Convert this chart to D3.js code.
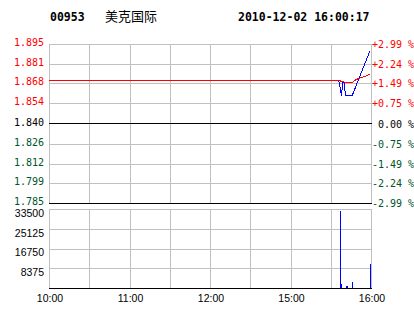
<!DOCTYPE html>
<html>
<head>
<meta charset="utf-8">
<script src="https://cdn.jsdelivr.net/npm/d3@7"></script>
<style>
  body { margin: 0; background: #fff; }
  svg { display: block; }
</style>
</head>
<body>
<div id="chart"></div>
<script>
// stock header
var code = "00953";
var stockName = "美克国际";
var stamp = "2010-12-02 16:00:17";

// axis labels
var timeTicks = [0, 60, 120, 180, 240];          // trading minutes
var timeLabels = ["10:00", "11:00", "12:00", "15:00", "16:00"];
var priceTicks = [1.895, 1.881, 1.868, 1.854, 1.840, 1.826, 1.812, 1.799, 1.785];
var pctLabels = ["+2.99 %", "+2.24 %", "+1.49 %", "+0.75 %", " 0.00 %", "-0.75 %", "-1.49 %", "-2.24 %", "-2.99 %"];
var volTicks = [33500, 25125, 16750, 8375];
var prevClose = 1.840;

// price line (minute, price)
var priceMin = [0, 216, 217, 218, 219, 220, 221, 226, 239];
var price    = [1.870, 1.870, 1.865, 1.860, 1.869, 1.869, 1.860, 1.860, 1.890];

// average line
var avgMin = [0, 216, 221, 226, 229, 239];
var avg    = [1.870, 1.870, 1.869, 1.8685, 1.8705, 1.874];

// volume bars
var volMin = [217, 218, 221, 222, 226, 239];
var vol    = [32800, 1700, 850, 850, 2500, 10200];

var W = 414, H = 314;
var left = 49, right = 371;
var pTop = 44, pBottom = 203;
var vTop = 209, vBottom = 288;

var grey = "#c0c0c0", red = "#ff0000", green = "#00552a";
var mono = "'DejaVu Sans Mono', monospace";
var sans = "'Liberation Sans', Arial, sans-serif";

var svg = d3.select("#chart").append("svg")
  .attr("width", W).attr("height", H);

var x = d3.scaleLinear().domain([0, 240]).range([left, right]);
var y = d3.scaleLinear()
  .domain([priceTicks[priceTicks.length - 1], priceTicks[0]])
  .range([pBottom, pTop]);
var yv = d3.scaleLinear().domain([0, volTicks[0]]).range([vBottom, vTop]);

function crisp(v) { return Math.round(v) + 0.5; }

// header
svg.append("text").attr("x", 50).attr("y", 17)
  .attr("dominant-baseline", "middle")
  .style("font", "bold 11.5px " + mono).text(code);
svg.append("text").attr("x", 105).attr("y", 17)
  .attr("dominant-baseline", "middle")
  .style("font", "13px 'Noto Sans CJK SC'").text(stockName);
svg.append("text").attr("x", 238).attr("y", 17)
  .attr("dominant-baseline", "middle")
  .style("font", "bold 11.5px " + mono).text(stamp);

// vertical grid, both panels
var vgrid = d3.range(0, 241, 30);
[[pTop, pBottom], [vTop, vBottom]].forEach(function(p) {
  svg.append("g").selectAll("line")
    .data(vgrid)
    .enter().append("line")
      .attr("x1", function(d) { return crisp(x(d)); })
      .attr("x2", function(d) { return crisp(x(d)); })
      .attr("y1", p[0]).attr("y2", p[1])
      .attr("stroke", grey);
});

// price grid
svg.append("g").selectAll("line")
  .data(priceTicks)
  .enter().append("line")
    .attr("x1", left).attr("x2", right + 1)
    .attr("y1", function(d) { return crisp(y(d)); })
    .attr("y2", function(d) { return crisp(y(d)); })
    .attr("stroke", function(d, i) {
      return (d === prevClose || i === priceTicks.length - 1) ? "#000" : grey;
    });

// volume grid
svg.append("g").selectAll("line")
  .data(volTicks)
  .enter().append("line")
    .attr("x1", left).attr("x2", right + 1)
    .attr("y1", function(d) { return crisp(yv(d)); })
    .attr("y2", function(d) { return crisp(yv(d)); })
    .attr("stroke", grey);
svg.append("line")
  .attr("x1", left).attr("x2", right + 1)
  .attr("y1", crisp(vBottom)).attr("y2", crisp(vBottom))
  .attr("stroke", "#000");

// left price labels
function tone(i) {
  var c = Math.floor(priceTicks.length / 2);
  return i < c ? red : (i === c ? "#000" : green);
}
svg.append("g").selectAll("text")
  .data(priceTicks)
  .enter().append("text")
    .attr("x", 44)
    .attr("y", function(d) { return y(d) - 1; })
    .attr("text-anchor", "end")
    .attr("dominant-baseline", "middle")
    .attr("fill", function(d, i) { return tone(i); })
    .style("font", "10px " + mono)
    .text(function(d) { return d.toFixed(3); });

// right percent labels
svg.append("g").selectAll("text")
  .data(pctLabels)
  .enter().append("text")
    .attr("x", 372)
    .attr("y", function(d, i) { return y(priceTicks[i]) + 1; })
    .attr("dominant-baseline", "middle")
    .attr("fill", function(d, i) { return tone(i); })
    .style("font", "10px " + mono)
    .style("white-space", "pre")
    .text(function(d) { return d; });

// volume labels
svg.append("g").selectAll("text")
  .data(volTicks)
  .enter().append("text")
    .attr("x", 44)
    .attr("y", function(d) { return yv(d) + 5; })
    .attr("text-anchor", "end")
    .attr("dominant-baseline", "middle")
    .style("font", "10.5px " + sans)
    .text(function(d) { return d; });

// time labels
svg.append("g").selectAll("text")
  .data(timeTicks)
  .enter().append("text")
    .attr("x", function(d) { return x(d) + 1; })
    .attr("y", 299)
    .attr("text-anchor", "middle")
    .attr("dominant-baseline", "middle")
    .style("font", "10.5px " + sans)
    .text(function(d, i) { return timeLabels[i]; });

// volume bars
svg.append("g").selectAll("line")
  .data(volMin)
  .enter().append("line")
    .attr("x1", function(d) { return crisp(x(d)); })
    .attr("x2", function(d) { return crisp(x(d)); })
    .attr("y1", vBottom)
    .attr("y2", function(d, i) { return yv(vol[i]); })
    .attr("stroke", "#0000ff")
    .attr("shape-rendering", "crispEdges");

// price and average lines
var line = d3.line()
  .x(function(d) { return x(d[0]); })
  .y(function(d) { return crisp(y(d[1])); });

svg.append("path")
  .datum(d3.zip(priceMin, price))
  .attr("d", line)
  .attr("fill", "none")
  .attr("stroke", "#0000ff")
  .attr("shape-rendering", "crispEdges");

svg.append("path")
  .datum(d3.zip(avgMin, avg))
  .attr("d", line)
  .attr("fill", "none")
  .attr("stroke", red)
  .attr("shape-rendering", "crispEdges");
</script>
</body>
</html>
